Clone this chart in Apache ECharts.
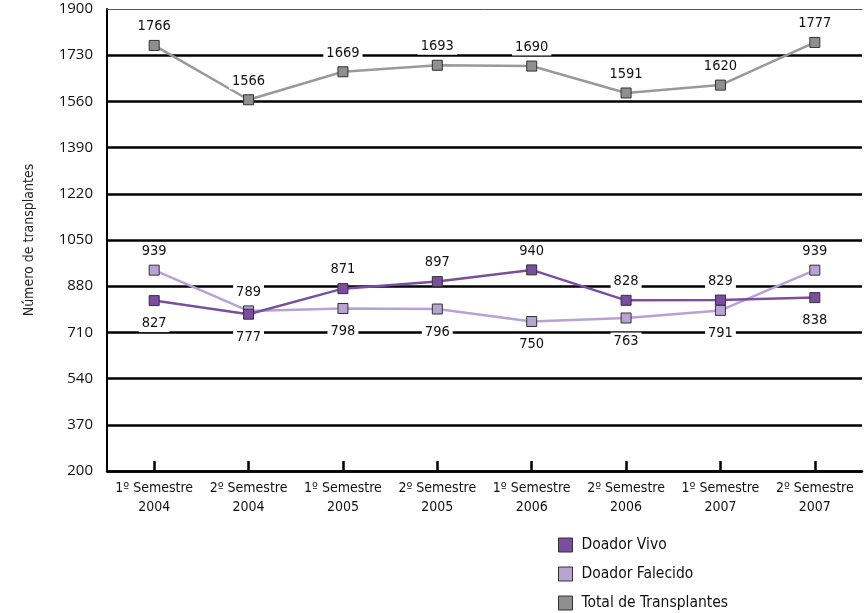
<!DOCTYPE html>
<html>
<head>
<meta charset="utf-8">
<script src="https://cdn.jsdelivr.net/npm/echarts@6/dist/echarts.min.js"></script>
<style>html,body{margin:0;padding:0;background:#fff}#c{width:866px;height:613px}</style>
</head>
<body>
<div id="c"></div>
<script>
var categories = ['1º Semestre\n2004','2º Semestre\n2004','1º Semestre\n2005','2º Semestre\n2005','1º Semestre\n2006','2º Semestre\n2006','1º Semestre\n2007','2º Semestre\n2007'];
var doadorVivo = [827, 777, 871, 897, 940, 828, 829, 838];
var doadorFalecido = [939, 789, 798, 796, 750, 763, 791, 939];
var totalTransplantes = [1766, 1566, 1669, 1693, 1690, 1591, 1620, 1777];
var yTicks = {min: 200, max: 1900, interval: 170};

var narrow = '"DejaVu Sans Condensed", "Liberation Sans Narrow", Roboto, sans-serif';

function withPositions(vals, other) {
  return vals.map(function (v, i) {
    var above = v >= other[i];
    return {value: v, label: {position: above ? 'top' : 'bottom', distance: above ? 5 : 9}};
  });
}

var labelStyle = {
  show: true, fontFamily: narrow, fontSize: 14.5, color: '#111',
  backgroundColor: '#fff', padding: [1, 3], distance: 5
};

var chart = echarts.init(document.getElementById('c'));
chart.setOption({
  animation: false,
  grid: {left: 107, right: 4, top: 9, bottom: 142},
  legend: {
    orient: 'vertical', left: 553, top: 532, height: 90, itemWidth: 14, itemHeight: 14, itemGap: 13,
    icon: 'rect',
    itemStyle: {borderColor: '#333', borderWidth: 1},
    textStyle: {fontFamily: narrow, fontSize: 15.5, color: '#111', padding: [0, 0, 0, 4]},
    data: ['Doador Vivo', 'Doador Falecido', 'Total de Transplantes']
  },
  xAxis: [{
    type: 'category', data: categories, boundaryGap: true,
    axisLine: {lineStyle: {color: '#000', width: 2.5}},
    axisTick: {show: true, inside: true, alignWithLabel: true, length: 10, lineStyle: {color: '#000', width: 2.5}},
    axisLabel: {fontFamily: narrow, fontSize: 14, color: '#111', lineHeight: 19, margin: 8, interval: 0}
  }, {
    type: 'category', data: categories, position: 'top',
    axisLine: {show: true, lineStyle: {color: '#555', width: 1}},
    axisTick: {show: false}, axisLabel: {show: false}
  }],
  yAxis: {
    type: 'value', min: yTicks.min, max: yTicks.max, interval: yTicks.interval,
    name: 'Número de transplantes', nameLocation: 'middle', nameGap: 71,
    nameTextStyle: {fontFamily: narrow, fontSize: 14, color: '#222'},
    axisLine: {show: true, lineStyle: {color: '#000', width: 2}},
    axisTick: {show: false},
    axisLabel: {fontFamily: '"Open Sans", sans-serif', fontSize: 15, color: '#111', margin: 14,
      formatter: function (v) { return String(v); }},
    splitLine: {show: true, showMaxLine: false, lineStyle: {color: '#000', width: 2.5}}
  },
  series: [{
    name: 'Doador Vivo', type: 'line', data: withPositions(doadorVivo, doadorFalecido),
    symbol: 'rect', symbolSize: 10,
    lineStyle: {color: '#7a4f9f', width: 2.5},
    itemStyle: {color: '#7b4da0', borderColor: '#333', borderWidth: 1},
    label: labelStyle,
    z: 5
  }, {
    name: 'Doador Falecido', type: 'line', data: withPositions(doadorFalecido, doadorVivo),
    symbol: 'rect', symbolSize: 10,
    lineStyle: {color: '#b7a2d3', width: 2.5},
    itemStyle: {color: '#b9a3d5', borderColor: '#333', borderWidth: 1},
    label: labelStyle,
    z: 4
  }, {
    name: 'Total de Transplantes', type: 'line', data: totalTransplantes,
    symbol: 'rect', symbolSize: 10,
    lineStyle: {color: '#999', width: 2.5},
    itemStyle: {color: '#8f8f8f', borderColor: '#333', borderWidth: 1},
    label: Object.assign({}, labelStyle, {position: 'top'}),
    z: 3
  }]
});
</script>
</body>
</html>
